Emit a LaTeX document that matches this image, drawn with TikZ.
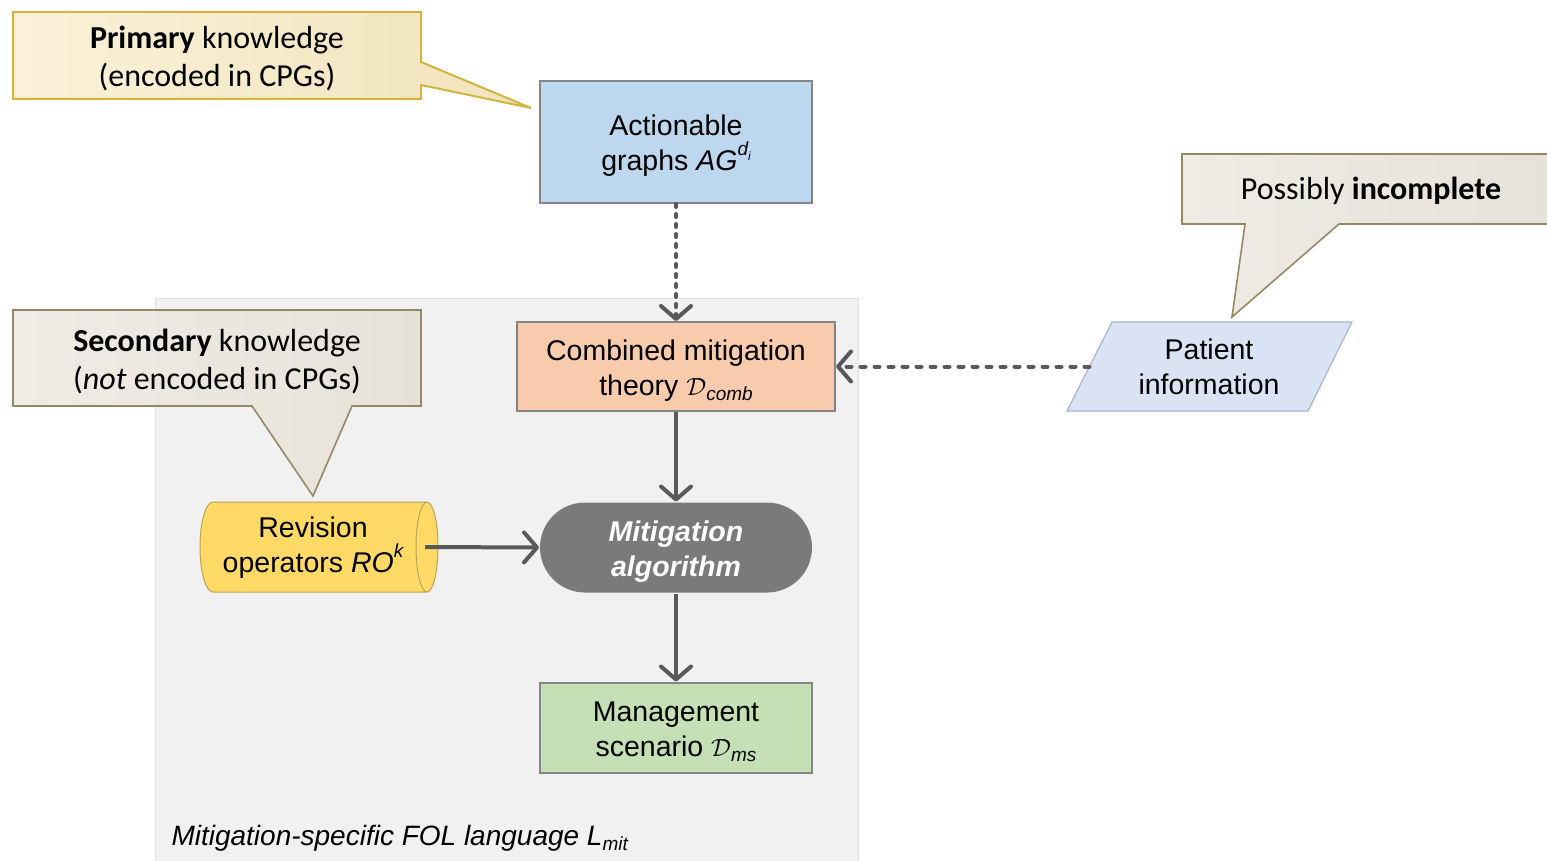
\documentclass[tikz,border=0pt]{standalone}
\usepackage{fontspec}
\setmainfont{Liberation Sans}
\newfontfamily\calibrifont{Carlito}
\usetikzlibrary{arrows.meta}

\definecolor{langbg}{HTML}{F1F1F1}
\definecolor{langedge}{HTML}{E2E2E2}
\definecolor{boxedge}{HTML}{858585}
\definecolor{agfill}{HTML}{BDD7EE}
\definecolor{combfill}{HTML}{F8CBAD}
\definecolor{msfill}{HTML}{C5E0B4}
\definecolor{algfill}{HTML}{7A7A7A}
\definecolor{patfill}{HTML}{DAE3F3}
\definecolor{patedge}{HTML}{A9B4CA}
\definecolor{revfill}{HTML}{FFD966}
\definecolor{revedge}{HTML}{BBA35A}
\definecolor{arrowgrey}{HTML}{595959}
\definecolor{goldedge}{HTML}{D2B440}
\definecolor{goldL}{HTML}{FAF1D9}
\definecolor{goldM}{HTML}{EAD6A2}
\definecolor{goldR}{HTML}{F1E3BB}
\definecolor{taupeedge}{HTML}{958965}
\definecolor{taupeL}{HTML}{EFECE5}
\definecolor{taupeM}{HTML}{D3CBBB}
\definecolor{taupeR}{HTML}{E7E2D9}

\newcommand\lowsub[1]{\raisebox{-0.35ex}{\fontsize{19}{19}\selectfont\itshape #1}}
\newcommand\highsup[1]{\raisebox{1.0ex}{\fontsize{19}{19}\selectfont\itshape #1}}

\begin{document}
\begin{tikzpicture}[x=1pt,y=-1pt,
  boxtext/.style={align=center,font=\fontsize{28.5}{35}\selectfont},
  stepbox/.style={boxtext,draw=boxedge,line width=2pt,minimum width=272pt,minimum height=90pt,inner sep=0pt},
  calltext/.style={align=center,font=\calibrifont\fontsize{32}{38}\selectfont},
  goldcall/.style={draw=goldedge,line width=2pt,left color=goldL,middle color=goldM,right color=goldR},
  taupecall/.style={draw=taupeedge,line width=1.6pt,left color=taupeL,middle color=taupeM,right color=taupeR},
  conn/.style={draw=arrowgrey,line width=4pt,-{Straight Barb[round,length=13pt,width=30pt]}},
  dotconn/.style={conn,line cap=round,dash pattern=on 3pt off 7pt},
  dashconn/.style={conn,line cap=round,dash pattern=on 5pt off 9pt},
]
\useasboundingbox (0,0) rectangle (1547,861);

% language region
\fill[langbg] (155,298) rectangle (858,861);
\draw[langedge,line width=1pt] (155,861) -- (155,298) -- (858,298) -- (858,861);

% callouts
\path[goldcall] (13,12) -- (421,12) -- (421,62) -- (531,108) -- (421,85) -- (421,99) -- (13,99) -- cycle;
\node[calltext] (prim) at (217,58) {\textbf{Primary} knowledge\\(encoded in CPGs)};

\path[taupecall] (13,310) -- (421,310) -- (421,406) -- (352,406) -- (313,496) -- (252,406) -- (13,406) -- cycle;
\node[calltext] (sec) at (217,361) {\textbf{Secondary} knowledge\\(\textit{not} encoded in CPGs)};

\path[taupecall] (1182,154) -- (1550,154) -- (1550,224) -- (1339,224) -- (1232,317) -- (1245,224) -- (1182,224) -- cycle;
\node[calltext] (poss) at (1371,191) {Possibly \textbf{incomplete}};

% main flow boxes
\node[stepbox,fill=agfill,minimum height=122pt] (ag) at (676,142)
  {\rule{0pt}{28pt}Actionable\\graphs \textit{AG}\raisebox{1.0ex}{\fontsize{19}{19}\selectfont\itshape d\raisebox{-0.45ex}{\fontsize{12}{12}\selectfont i}}};
\node[stepbox,fill=combfill,minimum width=318pt,minimum height=89pt] (comb) at (676,366.5)
  {\rule{0pt}{28pt}Combined mitigation\\theory $\mathcal{D}$\lowsub{comb}};
\node[stepbox,draw=none,fill=algfill,rounded corners=45pt,text=white,font=\fontsize{28.5}{35}\selectfont\bfseries\itshape] (alg) at (676,547.5)
  {\rule{0pt}{28pt}Mitigation\\algorithm};
\node[stepbox,fill=msfill,minimum height=90pt] (ms) at (676,727.5)
  {\rule{0pt}{28pt}Management\\scenario $\mathcal{D}$\lowsub{ms}};

% patient information (parallelogram)
\path[fill=patfill,draw=patedge,line width=1.2pt] (1112,322) -- (1352,322) -- (1308,411) -- (1067,411) -- cycle;
\node[boxtext] (pat) at (1209,367) {Patient\\information};
\coordinate (patin) at (1089.5,366.5);

% revision operators (horizontal cylinder)
\path[fill=revfill,draw=revedge,line width=1pt]
  (213,502) -- (427,502) arc[start angle=-90,end angle=90,x radius=11,y radius=45]
  -- (213,592) arc[start angle=90,end angle=270,x radius=13,y radius=45] -- cycle;
\draw[revedge,line width=1pt] (427,502) arc[start angle=270,end angle=90,x radius=11,y radius=45];
\node[boxtext] (rev) at (313,548) {Revision\\operators \textit{RO}\highsup{k}};
\coordinate (revout) at (425,547);

% connectors
\draw[dotconn] (ag.south) -- (comb.north);
\draw[dashconn] (patin) -- (comb.east);
\draw[conn] (comb.south) -- (alg.north);
\draw[conn] (revout) -- (alg.west);
\draw[conn] (alg.south) -- (ms.north);

% language label
\node[anchor=base west,font=\fontsize{28}{34}\selectfont\itshape] (lang) at (168,845)
  {Mitigation-specific FOL language L\lowsub{mit}};
\end{tikzpicture}
\end{document}
